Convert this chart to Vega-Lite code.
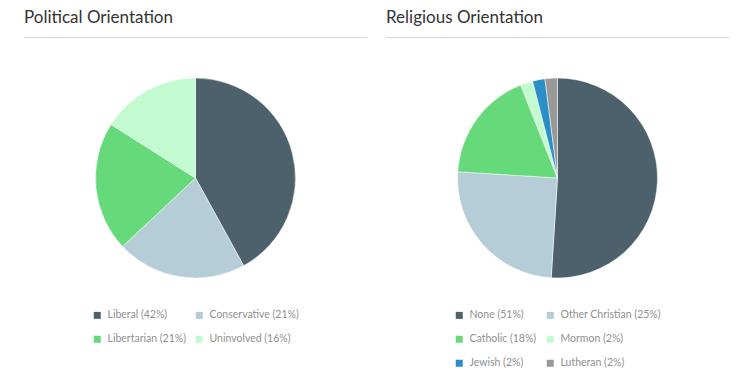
{
  "$schema": "https://vega.github.io/schema/vega-lite/v6.json",
  "padding": {"left": 24, "top": 8, "right": 0, "bottom": 0},
  "background": "white",
  "datasets": {
    "political": [
      {"i": 1, "label": "Liberal (42%)", "share": 42},
      {"i": 2, "label": "Conservative (21%)", "share": 21},
      {"i": 3, "label": "Libertarian (21%)", "share": 21},
      {"i": 4, "label": "Uninvolved (16%)", "share": 16}
    ],
    "religious": [
      {"i": 1, "label": "None (51%)", "share": 51},
      {"i": 2, "label": "Other Christian (25%)", "share": 25},
      {"i": 3, "label": "Catholic (18%)", "share": 18},
      {"i": 4, "label": "Mormon (2%)", "share": 2},
      {"i": 5, "label": "Jewish (2%)", "share": 2},
      {"i": 6, "label": "Lutheran (2%)", "share": 2}
    ]
  },
  "resolve": {"scale": {"color": "independent"}, "legend": {"color": "independent"}},
  "hconcat": [
    {
      "spacing": 7,
      "resolve": {"scale": {"color": "independent"}, "legend": {"color": "independent"}},
      "vconcat": [
        {
          "title": {"text": "Political Orientation"},
          "width": 343,
          "height": 1,
          "view": {"stroke": null, "fill": "#d6d6d6"},
          "data": {"name": "political"},
          "mark": {"type": "point", "opacity": 0},
          "encoding": {}
        },
        {
          "width": 343,
          "height": 260,
          "data": {"name": "political"},
          "mark": {"type": "arc", "radius": 100, "stroke": "white", "strokeWidth": 0.5},
          "encoding": {
            "theta": {"field": "share", "type": "quantitative", "stack": true},
            "order": {"field": "i", "type": "quantitative"},
            "color": {
              "field": "label",
              "type": "nominal",
              "sort": null,
              "scale": {"range": ["#4c616b", "#b5cdd6", "#66d97a", "#c3fbd1"]},
              "legend": {"columns": 2, "title": null}
            }
          }
        }
      ]
    },
    {
      "spacing": 7,
      "resolve": {"scale": {"color": "independent"}, "legend": {"color": "independent"}},
      "vconcat": [
        {
          "title": {"text": "Religious Orientation"},
          "width": 343,
          "height": 1,
          "view": {"stroke": null, "fill": "#d6d6d6"},
          "data": {"name": "religious"},
          "mark": {"type": "point", "opacity": 0},
          "encoding": {}
        },
        {
          "width": 343,
          "height": 260,
          "data": {"name": "religious"},
          "mark": {"type": "arc", "radius": 100, "stroke": "white", "strokeWidth": 0.5},
          "encoding": {
            "theta": {"field": "share", "type": "quantitative", "stack": true},
            "order": {"field": "i", "type": "quantitative"},
            "color": {
              "field": "label",
              "type": "nominal",
              "sort": null,
              "scale": {"range": ["#4c616b", "#b5cdd6", "#66d97a", "#c3fbd1", "#2a8fc6", "#999999"]},
              "legend": {"columns": 2, "title": null}
            }
          }
        }
      ]
    }
  ],
  "spacing": 19,
  "config": {
    "view": {"stroke": null},
    "title": {"anchor": "start", "font": "Lato", "fontSize": 17, "fontWeight": "normal", "color": "#333333", "offset": 8},
    "legend": {
      "orient": "bottom",
      "offset": 2,
      "labelFont": "Lato",
      "labelFontSize": 10.5,
      "labelColor": "#8f8f8f",
      "symbolType": "square",
      "symbolSize": 49,
      "symbolStrokeWidth": 0,
      "labelOffset": 5,
      "columnPadding": 8,
      "rowPadding": 13,
      "layout": {"bottom": {"anchor": "middle"}}
    }
  }
}
